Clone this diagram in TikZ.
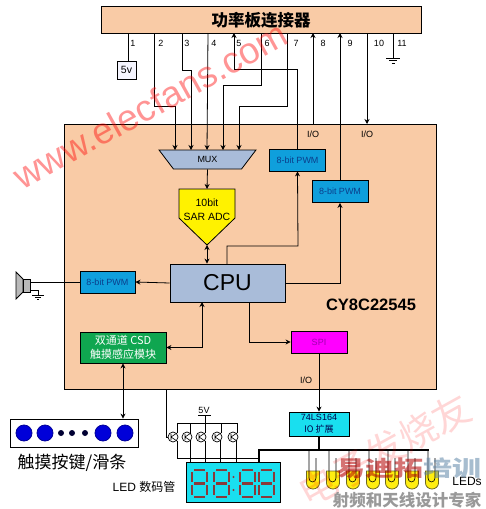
\documentclass[tikz,border=0pt]{standalone}
\usepackage{fontspec}
\setmainfont{Liberation Sans}
\newfontfamily\cjk{Noto Sans CJK SC}
\usetikzlibrary{arrows.meta,positioning,shapes.geometric}
\definecolor{ChipPeach}{HTML}{F9CBA6}
\definecolor{SteelBlue}{HTML}{A9BCD9}
\definecolor{PwmBlue}{HTML}{0F9FDC}
\definecolor{PwmText}{HTML}{0B3F8C}
\definecolor{CsdGreen}{HTML}{0FA650}
\definecolor{DispCyan}{HTML}{19DFEF}
\definecolor{SegRed}{HTML}{8A3A3A}
\definecolor{WmBlue}{HTML}{5F86A8}
\definecolor{SpiPink}{HTML}{FF00FF}
\definecolor{SpiText}{HTML}{A000B0}
\definecolor{LedYellow}{HTML}{FFEE10}
\newcommand{\fsz}[1]{\fontsize{#1}{#1}\selectfont}

\begin{document}
\begin{tikzpicture}[x=1pt,y=-1pt,line width=.8pt,
  box/.style={draw=black,inner sep=0pt,align=center,line width=.8pt},
  pwm/.style={box,fill=PwmBlue,text=PwmText,minimum width=56pt,minimum height=22pt,font=\fsz{9}},
  lbl/.style={inner sep=0pt,font=\fsz{9}},
  ar/.style={-{Stealth[length=5pt,width=5pt]}},
  dar/.style={{Stealth[length=5pt,width=5pt]}-{Stealth[length=5pt,width=5pt]}},
  tube/.style={circle,draw=black,fill=white,minimum size=10pt,inner sep=0pt,line width=.7pt},
  gnd/.pic={\draw (-7,0) -- (7,0) (-4,2.5) -- (4,2.5) (-1.5,5) -- (1.5,5);}]
  \useasboundingbox (0,0) rectangle (486,509);

  \node[box,fill=ChipPeach,minimum width=320pt,minimum height=27pt,font=\fsz{16.5}\cjk\bfseries] (conn) at (261,20) {功率板连接器};
  \node[box,fill=ChipPeach,minimum width=372pt,minimum height=265pt] (chip) at (250,256.5) {};

  \foreach \i/\px/\lx in {1/128/133,2/154/161,3/182/187,4/208/214,5/234/239,6/261/267,7/287/296,8/313/323,9/340/350,10/367/379,11/393/402} {
    \coordinate (p\i) at (\px,33);
    \node[lbl] (n\i) at (\lx,43) {\i};
  }

  \node[box,fill=blue!4,minimum width=19pt,minimum height=18pt,font=\fsz{10.5}] (vcc) at (126.5,70) {5v};
  \draw (p1) -- (p1 |- vcc.north);
  \coordinate (g11) at (393,58);
  \draw (p11) -- (g11);
  \pic at (g11) {gnd};

  \node[trapezium,shape border rotate=180,trapezium stretches=true,trapezium left angle=56,trapezium right angle=56,draw=black,fill=SteelBlue,minimum width=97pt,minimum height=19pt,inner sep=0pt,font=\fsz{9}] (mux) at (207.5,159.5) {MUX};
  \draw[fill=yellow] (179,189) -- (235,189) -- (235,218) -- (207,245) -- (179,218) -- cycle;
  \node[lbl,align=center,font=\fsz{10.5}] (adc) at (207,209.5) {10bit\\[3pt]SAR ADC};
  \coordinate (adct) at (207,189);
  \coordinate (adcb) at (207,245);
  \node[box,fill=SteelBlue,minimum width=115pt,minimum height=38pt,font=\fsz{23}] (cpu) at (227.5,283) {CPU};
  \node[pwm,minimum width=55pt] (pwml) at (107.5,282) {8-bit PWM};
  \node[pwm] (pwma) at (297.5,160) {8-bit PWM};
  \node[pwm] (pwmb) at (340,191.5) {8-bit PWM};
  \node[box,fill=CsdGreen,text=white,minimum width=86pt,minimum height=31pt,font=\fsz{11}\cjk] (csd) at (123,347.5) {双通道 CSD\\[3pt]触摸感应模块};
  \node[box,fill=SpiPink,text=SpiText,minimum width=56pt,minimum height=22pt,font=\fsz{9}] (spi) at (319,342) {SPI};
  \node[lbl,font=\fsz{16.5}\bfseries] (part) at (371,305) {CY8C22545};
  \node[box,fill=DispCyan,text=black!70!blue,minimum width=60pt,minimum height=24pt,font=\fsz{9}] (ext) at (319,424) {74LS164\\[3pt]{\cjk IO 扩展}};

  \foreach \i/\tx in {a/175,b/191,c/207,d/223,e/239}
    \coordinate (m\i) at (\tx,150);
  \draw[ar] (p2) |- (175,106) -- (ma);
  \draw[ar] (p3) |- (191,70) -- (mb);
  \draw[ar] (p4) -- (mc);
  \draw[ar] (p6) |- (223,85) -- (md);
  \draw[ar] (p7) |- (239,106) -- (me);
  \draw[ar] (pwma.north) |- (234,69) -- (p5);
  \draw[ar] (313,124) -- (p8);
  \draw[ar] (pwmb.north) -- (p9);
  \draw[ar] (p10) -- (367,124);
  \node[lbl] (io8) at (313,134) {I/O};
  \node[lbl] (io10) at (367,134) {I/O};
  \node[lbl] (iospi) at (306,380) {I/O};

  \draw[ar] (mux.south) -- (adct);
  \draw[dar] (adcb) -- (cpu.north -| adcb);
  \draw[ar] (cpu.west) -- (pwml.east);
  \draw[ar] (227,264) |- (298,246) -- (pwma.south);
  \draw[ar] (cpu.east) -| (pwmb.south);
  \draw[dar] (202,302) |- (csd.east);
  \draw[ar] (249,302) |- (spi.west);
  \draw[ar] (spi.south) -- (ext.north);

  \draw[fill=gray!55] (16,272) -- (23,279) -- (23,292) -- (16,299) -- cycle;
  \draw[fill=gray!55] (23,279) rectangle (30,292);
  \coordinate (spk) at (30,282);
  \coordinate (g12) at (38,295);
  \draw (pwml.west) -- (spk);
  \draw (30,290) -| (g12);
  \pic[scale=.8] at (g12) {gnd};

  \node[box,fill=white,minimum width=128pt,minimum height=28pt] (pad) at (74,433) {};
  \foreach \i/\tx in {a/24,b/45,c/103,d/125}
    \node[circle,draw=blue!60!black,fill=blue!85!black,minimum size=16pt,inner sep=0pt] (key\i) at (\tx,433) {};
  \foreach \i/\tx in {a/61,b/72,c/85}
    \node[circle,fill=black!80!blue,minimum size=6pt,inner sep=0pt] (dot\i) at (\tx,433) {};
  \draw[dar] (csd.south) -- (pad.north -| csd.south);
  \node[lbl,font=\fsz{17}\cjk] (padtxt) at (72,463) {触摸按键/滑条};

  \node[box,fill=DispCyan,minimum width=94pt,minimum height=40pt] (disp) at (233,482) {};
  \foreach \dx in {192,214,240,259}
    \draw[SegRed,line width=2.6pt] (\dx+2,470) -- (\dx+13,470) (\dx+2,483.5) -- (\dx+13,483.5) (\dx+2,497) -- (\dx+13,497)
      (\dx,472) -- (\dx,482) (\dx+15,472) -- (\dx+15,482) (\dx,485) -- (\dx,495) (\dx+15,485) -- (\dx+15,495);
  \fill[SegRed] (233.5,477) circle (1.2) (233.5,490) circle (1.2);
  \node[lbl,font=\fsz{12}] (dtxt) at (144,487) {LED {\cjk 数码管}};

  \foreach \i/\tx in {1/173,2/187,3/201,4/217,5/233} {
    \node[tube] (t\i) at (\tx,437) {};
    \draw[line width=.6pt] (\tx-2,434) -- (\tx-2,440) (\tx-2,437) -- (\tx+4,433) (\tx-2,437) -- (\tx+4,441);
  }
  \coordinate (rtop) at (205,423);
  \coordinate (rbot) at (177,458);
  \draw (chip.south -| 166,0) |- (t1.west);
  \draw (177,433) |- (237,423) -- (237,433);
  \foreach \tx in {190,205,221} \draw (\tx,423) -- (\tx,433);
  \draw (177,441) -- (rbot) -- (259,458);
  \foreach \tx in {190,205,220,236} \draw (\tx,441) -- (\tx,462);
  \node[lbl,font=\fsz{9}] (vtxt) at (204,410) {5V};
  \draw (198,415.5) -- (211,415.5) (rtop) -- (205,415.5);

  \coordinate (bus) at (319,450);
  \draw[line width=1.6pt] (ext.south) -- (bus);
  \draw[line width=1.6pt] (259,462) |- (429,450);
  \foreach \i/\tx in {1/313,2/333,3/353,4/373,5/392,6/412,7/432} {
    \draw[draw=olive!70!black,fill=LedYellow] (\tx-6.5,471) -- (\tx-6.5,483) arc (180:0:6.5 and 6) -- (\tx+6.5,471) -- cycle;
    \draw[line width=.6pt] (\tx-4,450) -- (\tx-4,478) arc (180:0:3.5 and 4) -- (\tx+3,458);
    \coordinate (led\i) at (\tx,471);
  }
  \node[lbl,font=\fsz{12}] (ledtxt) at (467,481) {LEDs};

  \node[lbl,text=red,opacity=.42,font=\fsz{37},rotate=29] (wm1) at (150,105) {www.elecfans.com};
  \node[lbl,text=red,opacity=.16,font=\fsz{38}\cjk,rotate=29] (wm2) at (385,450) {电子发烧友};
  \node[lbl,opacity=.55,font=\fsz{29}\cjk\bfseries,yscale=.75] (wm3) at (409,468) {{\color{red!70!black}易迪拓}{\color{WmBlue}培训}};
  \node[lbl,text=gray!80,font=\fsz{16.5}\cjk\bfseries] (wm4) at (407,500) {射频和天线设计专家};
\end{tikzpicture}
\end{document}
